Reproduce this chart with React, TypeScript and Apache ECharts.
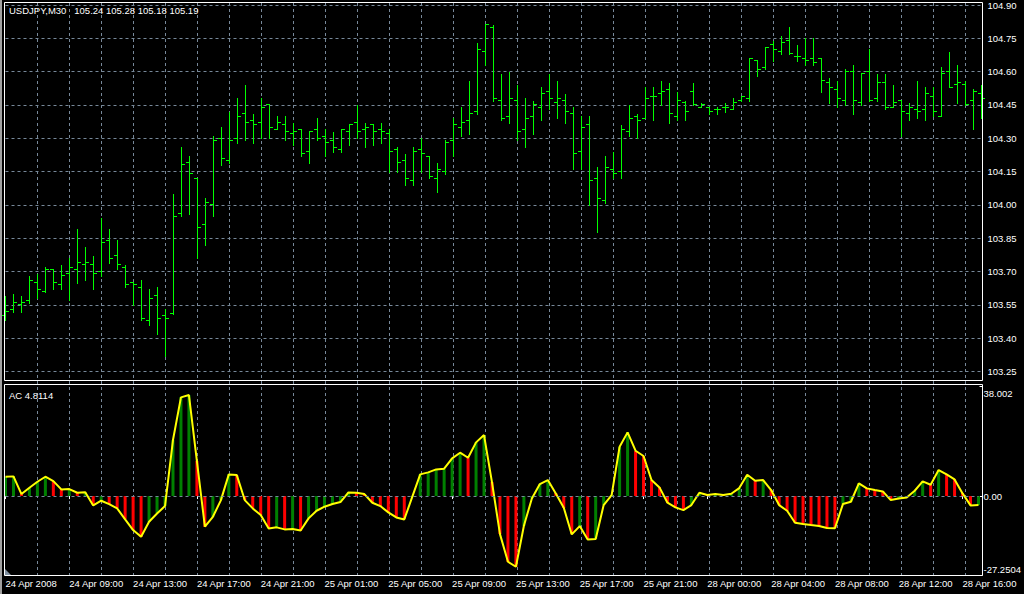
import React, { useEffect, useRef } from 'react';
import * as echarts from 'echarts';

// ---------- texts ----------
const SYMBOL_TITLE = 'USDJPY,M30   105.24 105.28 105.18 105.19';
const AC_TITLE = 'AC 4.8114';

// ---------- categories (M30 bars) ----------
function halfHours(day: string, fromSlot: number, toSlot: number): string[] {
  const out: string[] = [];
  for (let s = fromSlot; s <= toSlot; s++) {
    const h = Math.floor(s / 2);
    out.push(`${day} ${String(h).padStart(2, '0')}:${s % 2 ? '30' : '00'}`);
  }
  return out;
}
const BAR_TIMES: string[] = [
  ...halfHours('24 Apr', 10, 47),
  ...halfHours('25 Apr', 0, 47),
  ...halfHours('27 Apr', 46, 47),
  ...halfHours('28 Apr', 0, 34),
];

// tick labels on the time axis (one every 8 bars)
const DATE_LABELS = [
  '24 Apr 2008', '24 Apr 09:00', '24 Apr 13:00', '24 Apr 17:00', '24 Apr 21:00',
  '25 Apr 01:00', '25 Apr 05:00', '25 Apr 09:00', '25 Apr 13:00', '25 Apr 17:00',
  '25 Apr 21:00', '28 Apr 00:00', '28 Apr 04:00', '28 Apr 08:00', '28 Apr 12:00',
  '28 Apr 16:00',
];
const DATE_EVERY = 8;
const GRID_EVERY = 4;

// price axis ticks
const PRICE_TICKS = [103.25, 103.4, 103.55, 103.7, 103.85, 104.0, 104.15, 104.3, 104.45, 104.6, 104.75, 104.9];
// AC axis ticks
const AC_TICKS = [-27.2504, 0, 38.002];
const AC_TICK_LABELS = ['-27.2504', '0.00', '38.002'];

// ---------- OHLC ----------
const OPEN = [
  103.50, 103.53, 103.55, 103.57, 103.65, 103.61, 103.71, 103.64, 103.69, 103.71,
  103.73, 103.73, 103.70, 103.84, 103.77, 103.72, 103.65, 103.63, 103.48, 103.59,
  103.50, 103.51, 103.96, 104.19, 104.12, 103.91, 104.00, 104.30, 104.20, 104.30,
  104.41, 104.38, 104.37, 104.45, 104.34, 104.36, 104.32, 104.34, 104.24, 104.34,
  104.31, 104.29, 104.25, 104.33, 104.37, 104.34, 104.36, 104.34, 104.32, 104.25,
  104.20, 104.11, 104.25, 104.22, 104.12, 104.15, 104.29, 104.35, 104.38, 104.42,
  104.69, 104.80, 104.47, 104.40, 104.47, 104.34, 104.40, 104.44, 104.51, 104.46,
  104.47, 104.41, 104.24, 104.36, 104.12, 104.02, 104.16, 104.15, 104.33, 104.40,
  104.39, 104.49, 104.50, 104.52, 104.40, 104.46, 104.51, 104.44, 104.44, 104.43,
  104.44, 104.43, 104.47, 104.48, 104.65, 104.62, 104.72, 104.69, 104.74, 104.67,
  104.66, 104.66, 104.66, 104.55, 104.52, 104.47, 104.60, 104.46, 104.60, 104.48,
  104.55, 104.44, 104.47, 104.41, 104.43, 104.43, 104.49, 104.40, 104.60, 104.54,
  104.54, 104.47, 104.50,
];
const HIGH = [
  103.59, 103.60, 103.59, 103.68, 103.69, 103.72, 103.71, 103.73, 103.76, 103.89,
  103.81, 103.77, 103.94, 103.89, 103.84, 103.73, 103.65, 103.66, 103.62, 103.63,
  103.53, 104.05, 104.26, 104.22, 104.12, 104.03, 104.31, 104.35, 104.42, 104.48,
  104.54, 104.41, 104.48, 104.45, 104.40, 104.40, 104.37, 104.34, 104.33, 104.39,
  104.34, 104.33, 104.34, 104.36, 104.45, 104.37, 104.36, 104.37, 104.34, 104.26,
  104.23, 104.26, 104.30, 104.22, 104.19, 104.29, 104.39, 104.44, 104.56, 104.73,
  104.81, 104.81, 104.59, 104.60, 104.54, 104.48, 104.47, 104.53, 104.59, 104.56,
  104.50, 104.44, 104.40, 104.40, 104.17, 104.22, 104.24, 104.36, 104.45, 104.41,
  104.53, 104.53, 104.56, 104.55, 104.51, 104.47, 104.55, 104.46, 104.44, 104.44,
  104.46, 104.48, 104.49, 104.66, 104.65, 104.71, 104.74, 104.76, 104.80, 104.72,
  104.75, 104.75, 104.66, 104.57, 104.56, 104.61, 104.63, 104.59, 104.70, 104.59,
  104.59, 104.54, 104.47, 104.46, 104.56, 104.53, 104.53, 104.62, 104.69, 104.63,
  104.56, 104.52, 104.54,
];
const LOW = [
  103.48, 103.52, 103.52, 103.56, 103.58, 103.61, 103.62, 103.62, 103.57, 103.65,
  103.66, 103.62, 103.68, 103.74, 103.71, 103.63, 103.55, 103.48, 103.46, 103.42,
  103.32, 103.51, 103.95, 103.96, 103.76, 103.82, 103.95, 104.18, 104.19, 104.28,
  104.29, 104.28, 104.30, 104.30, 104.34, 104.29, 104.27, 104.22, 104.19, 104.29,
  104.22, 104.24, 104.24, 104.27, 104.30, 104.26, 104.27, 104.28, 104.15, 104.15,
  104.09, 104.09, 104.15, 104.12, 104.06, 104.14, 104.22, 104.31, 104.32, 104.41,
  104.63, 104.47, 104.38, 104.37, 104.29, 104.26, 104.32, 104.38, 104.43, 104.39,
  104.37, 104.16, 104.16, 104.00, 103.88, 104.01, 104.12, 104.12, 104.31, 104.30,
  104.39, 104.38, 104.45, 104.37, 104.38, 104.38, 104.45, 104.44, 104.41, 104.41,
  104.42, 104.43, 104.47, 104.47, 104.58, 104.61, 104.65, 104.68, 104.68, 104.65,
  104.63, 104.63, 104.51, 104.46, 104.44, 104.45, 104.41, 104.45, 104.47, 104.47,
  104.43, 104.44, 104.31, 104.38, 104.39, 104.38, 104.40, 104.40, 104.53, 104.46,
  104.45, 104.34, 104.39,
];
const CLOSE = [
  103.52, 103.56, 103.56, 103.66, 103.62, 103.71, 103.65, 103.68, 103.72, 103.74,
  103.74, 103.69, 103.83, 103.76, 103.73, 103.64, 103.64, 103.49, 103.58, 103.49,
  103.49, 103.95, 104.18, 104.14, 103.90, 104.01, 104.29, 104.21, 104.29, 104.40,
  104.37, 104.36, 104.44, 104.35, 104.37, 104.33, 104.33, 104.23, 104.33, 104.30,
  104.28, 104.26, 104.34, 104.36, 104.33, 104.35, 104.33, 104.33, 104.24, 104.19,
  104.12, 104.24, 104.23, 104.13, 104.16, 104.28, 104.36, 104.37, 104.41, 104.70,
  104.81, 104.48, 104.39, 104.48, 104.33, 104.39, 104.45, 104.50, 104.48, 104.48,
  104.42, 104.23, 104.35, 104.11, 104.03, 104.17, 104.14, 104.34, 104.39, 104.38,
  104.48, 104.49, 104.51, 104.41, 104.47, 104.42, 104.45, 104.45, 104.42, 104.43,
  104.44, 104.46, 104.49, 104.66, 104.61, 104.71, 104.70, 104.73, 104.68, 104.67,
  104.65, 104.64, 104.56, 104.53, 104.48, 104.60, 104.47, 104.59, 104.47, 104.55,
  104.44, 104.46, 104.42, 104.44, 104.42, 104.50, 104.42, 104.59, 104.53, 104.55,
  104.45, 104.51, 104.48,
];

// ---------- Accelerator Oscillator ----------
const AC_VALUES = [
  6.68, 6.8, 0.69, 2.88, 4.95, 6.68, 5.18, 2.3, 2.42, 1.15,
  1.3, -3.22, -1.61, -2.76, -4.26, -8.06, -11.74, -14.05, -8.87, -6.0,
  -3.45, 19.34, 34.08, 34.89, 12.09, -10.59, -7.14, -1.5, 7.48, 7.25,
  -1.38, -4.26, -6.56, -11.17, -10.8, -11.5, -11.4, -11.9, -7.71, -5.07,
  -3.68, -2.76, -2.07, 1.27, 1.15, 0.69, -2.3, -3.45, -5.64, -7.37,
  -8.06, -0.3, 7.48, 8.18, 9.21, 9.44, 13.01, 14.97, 13.24, 18.54,
  21.07, 4.72, -13.13, -22.68, -24.41, -10.25, -0.81, 4.15, 5.53, 0.92,
  -4.03, -13.24, -10.36, -14.97, -14.8, -3.11, 0.35, 17.04, 21.99, 15.66,
  13.82, 5.53, 2.99, -2.3, -3.91, -4.84, -3.11, 1.15, 0.35, 0.69,
  0.35, 0.81, 2.76, 7.37, 5.3, 5.53, 2.07, -3.11, -5.07, -9.21,
  -9.67, -10.02, -10.36, -11.05, -11.1, -2.76, -1.96, 4.38, 2.65, 2.07,
  1.61, -1.38, -0.81, -0.46, 1.84, 5.07, 3.91, 8.98, 7.48, 5.76,
  0.92, -3.22, -3.1,
];

// ---------- styles ----------
const FONT = '"Liberation Sans", Arial, sans-serif';
const FONT_SIZE = 9.5;
const TEXT = '#ffffff';
const GRID_COLOR = '#778899';
const BAR_COLOR = '#00ff00';
const AC_UP = '#008000';
const AC_DOWN = '#ff0000';
const AC_LINE = '#ffff00';

export default function App() {
  const ref = useRef<HTMLDivElement>(null);

  useEffect(() => {
    if (!ref.current) return;
    const chart = echarts.init(ref.current, null, { renderer: 'svg' });

    const step = +(PRICE_TICKS[1] - PRICE_TICKS[0]).toFixed(2);
    const priceMin = +(PRICE_TICKS[0] - step).toFixed(2);
    const priceMax = PRICE_TICKS[PRICE_TICKS.length - 1];

    const ohlc = BAR_TIMES.map((_, i) => [i, OPEN[i], CLOSE[i], LOW[i], HIGH[i]]);
    const acData = AC_VALUES.map((v, i) => [i, v]);

    const textStyle = { color: TEXT, fontSize: FONT_SIZE, fontFamily: FONT, fontWeight: 'normal' as const };
    const snap = (v: number) => Math.round(v - 0.5) + 0.5;

    const option: any = {
      animation: false,
      backgroundColor: '#000000',
      title: [
        { text: SYMBOL_TITLE, left: 9, top: 5, padding: 0, textStyle },
        { text: AC_TITLE, left: 9, top: 390, padding: 0, textStyle },
      ],
      grid: [
        { left: 5.5, width: 976, top: 3.9, height: 400.9 },
        { left: 5.5, width: 976, top: 386, height: 189 },
        { left: 5.5, width: 976, top: 3, height: 572 },
      ],
      xAxis: [
        { gridIndex: 0, type: 'category', data: BAR_TIMES, boundaryGap: false, show: false },
        {
          gridIndex: 1, type: 'category', data: BAR_TIMES, boundaryGap: false,
          axisLine: { show: false },
          axisTick: { show: true, interval: DATE_EVERY - 1, length: 3, lineStyle: { color: TEXT } },
          axisLabel: {
            interval: DATE_EVERY - 1, align: 'left', margin: 3, ...textStyle,
            formatter: (_v: string, idx: number) => DATE_LABELS[Math.floor(idx / DATE_EVERY)] ?? '',
          },
          splitLine: { show: false },
        },
        {
          gridIndex: 2, type: 'category', data: BAR_TIMES, boundaryGap: false,
          axisLine: { show: false }, axisTick: { show: false }, axisLabel: { show: false },
          splitLine: {
            show: true, interval: GRID_EVERY - 1, showMinLine: false,
            lineStyle: { color: GRID_COLOR, width: 1, type: [3, 3] },
          },
        },
      ],
      yAxis: [
        {
          gridIndex: 0, type: 'value', min: priceMin, max: priceMax, interval: step,
          position: 'right', offset: 1,
          axisLine: { show: false }, axisTick: { show: false },
          axisLabel: {
            showMinLabel: false, margin: 5, ...textStyle,
            formatter: (v: number) => (v < PRICE_TICKS[0] - 1e-6 ? '' : v.toFixed(2)),
          },
          splitLine: { show: true, showMinLine: false, lineStyle: { color: GRID_COLOR, width: 1, type: [3, 3] } },
        },
        {
          gridIndex: 1, type: 'value', min: AC_TICKS[0], max: AC_TICKS[AC_TICKS.length - 1],
          position: 'right', offset: 1,
          axisLine: { show: false },
          axisTick: { show: true, customValues: AC_TICKS, length: 3, lineStyle: { color: TEXT } },
          axisLabel: {
            customValues: AC_TICKS, margin: 4, ...textStyle,
            formatter: (v: number) => {
              const k = AC_TICKS.findIndex((t) => Math.abs(t - v) < 1e-6);
              if (k < 0) return '';
              if (k === 0) return `{lo|${AC_TICK_LABELS[k]}}`;
              if (k === AC_TICKS.length - 1) return `{hi|${AC_TICK_LABELS[k]}}`;
              return AC_TICK_LABELS[k];
            },
            rich: {
              lo: { ...textStyle, padding: [0, 0, 12, 0] },
              hi: { ...textStyle, padding: [14, 0, 0, 0] },
            },
          },
          splitLine: { show: false },
        },
        { gridIndex: 2, type: 'value', min: 0, max: 1, show: false },
      ],
      series: [
        {
          type: 'custom', name: 'USDJPY', xAxisIndex: 0, yAxisIndex: 0,
          data: ohlc, encode: { x: 0, y: [1, 2, 3, 4] }, silent: true, z: 4,
          renderItem: (_p: any, api: any) => {
            const i = api.value(0);
            const o = api.coord([i, api.value(1)]);
            const c = api.coord([i, api.value(2)]);
            const l = api.coord([i, api.value(3)]);
            const h = api.coord([i, api.value(4)]);
            const x = snap(h[0]);
            const st = { stroke: BAR_COLOR, lineWidth: 1 };
            return {
              type: 'group',
              children: [
                { type: 'line', shape: { x1: x, y1: Math.round(h[1]), x2: x, y2: Math.round(l[1]) + 1 }, style: st },
                { type: 'line', shape: { x1: x - 3.5, y1: snap(o[1]), x2: x + 0.5, y2: snap(o[1]) }, style: st },
                { type: 'line', shape: { x1: x - 0.5, y1: snap(c[1]), x2: x + 3.5, y2: snap(c[1]) }, style: st },
              ],
            };
          },
        },
        {
          type: 'custom', name: 'AC bars', xAxisIndex: 1, yAxisIndex: 1,
          data: acData, encode: { x: 0, y: 1 }, silent: true, z: 2,
          renderItem: (_p: any, api: any) => {
            const i = api.value(0);
            const v = api.value(1);
            const p0 = api.coord([i, 0]);
            const p1 = api.coord([i, v]);
            const up = i === 0 || v > AC_VALUES[i - 1];
            const y0 = Math.round(p0[1]);
            const y1 = Math.round(p1[1]);
            return {
              type: 'rect',
              shape: { x: p0[0] - 1.5, y: Math.min(y0, y1), width: 3, height: Math.max(1, Math.abs(y1 - y0)) },
              style: { fill: up ? AC_UP : AC_DOWN },
            };
          },
        },
        {
          type: 'line', name: 'AC', xAxisIndex: 1, yAxisIndex: 1,
          data: AC_VALUES, symbol: 'none', showSymbol: false, silent: true, z: 3,
          lineStyle: { color: AC_LINE, width: 2 },
          markLine: {
            silent: true, symbol: ['none', 'none'], label: { show: false },
            lineStyle: { color: GRID_COLOR, width: 1, type: [3, 3] },
            data: [{ yAxis: 0 }],
          },
        },
      ],
      graphic: [
        { type: 'rect', z: 50, silent: true, shape: { x: 0, y: 0, width: 2, height: 594 }, style: { fill: '#a0a0a0' } },
        { type: 'rect', z: 50, silent: true, shape: { x: 4.5, y: 2.5, width: 978, height: 378 }, style: { fill: 'transparent', stroke: '#ffffff', lineWidth: 1 } },
        { type: 'rect', z: 50, silent: true, shape: { x: 4.5, y: 384.5, width: 978, height: 191 }, style: { fill: 'transparent', stroke: '#ffffff', lineWidth: 1 } },
        { type: 'polygon', z: 50, silent: true, shape: { points: [[5, 569], [5, 575], [11, 575]] }, style: { fill: '#8090a0' } },
      ],
    };

    chart.setOption(option);
    return () => chart.dispose();
  }, []);

  return (
    <div
      ref={ref}
      style={{ position: 'fixed', left: 0, top: 0, width: 1024, height: 594, background: '#000' }}
    />
  );
}
